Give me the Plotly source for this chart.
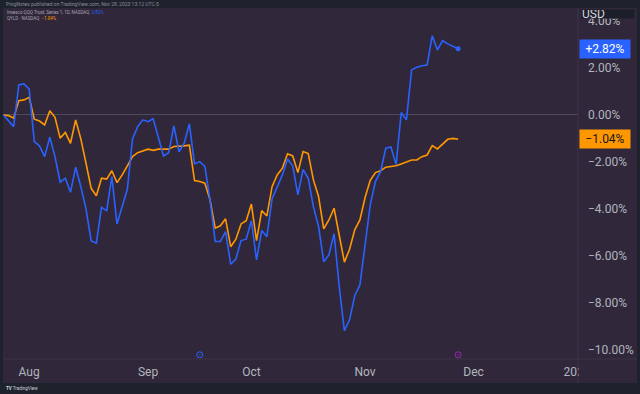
import pandas as pd
import plotly.graph_objects as go

# ---- data -------------------------------------------------------------
holidays = ["2023-09-04", "2023-11-23", "2023-12-25", "2024-01-01"]
calendar = [d for d in pd.bdate_range("2023-07-25", "2024-01-02")
            if d.strftime("%Y-%m-%d") not in holidays]

qqq_pct = [0.00, -0.26, -0.50, 1.28, 1.32, 1.10, -1.14, -1.32, -1.78, -0.95,
           -1.78, -2.87, -2.70, -3.30, -2.23, -3.06, -4.01, -5.37, -5.47, -3.94,
           -4.08, -2.63, -4.65, -3.91, -3.17, -1.02, -0.50, -0.21, -0.29, -0.16,
           -0.94, -1.75, -1.61, -0.47, -1.57, -1.21, -0.38, -2.09, -1.99, -2.20,
           -3.62, -5.40, -5.40, -4.98, -6.37, -6.15, -5.36, -5.30, -4.51, -6.18,
           -4.93, -5.19, -3.58, -3.08, -2.56, -1.88, -2.17, -3.41, -2.33, -2.70,
           -3.91, -4.76, -6.26, -5.97, -5.07, -7.32, -9.20, -8.74, -7.71, -7.25,
           -5.62, -3.84, -2.84, -2.42, -1.42, -1.37, -2.12, 0.10, -0.21, 1.92,
           2.03, 2.10, 2.13, 3.37, 2.77, 3.17, 3.03, 2.94, 2.82]

qyld_pct = [0.00, -0.03, -0.14, 0.61, 0.64, 0.75, -0.18, -0.26, -0.43, 0.18,
            -0.10, -0.99, -0.75, -1.21, -0.21, -1.02, -2.06, -3.13, -3.45, -2.70,
            -2.74, -2.38, -2.89, -2.56, -2.17, -1.78, -1.61, -1.52, -1.46, -1.51,
            -1.46, -1.46, -1.46, -1.35, -1.35, -1.32, -1.29, -2.80, -2.84, -2.91,
            -3.62, -4.83, -4.73, -4.43, -5.62, -5.30, -4.65, -4.51, -3.80, -5.36,
            -4.08, -4.31, -3.06, -2.56, -2.27, -1.66, -1.75, -2.46, -1.56, -1.65,
            -2.77, -3.48, -4.86, -4.48, -3.98, -5.12, -6.28, -5.73, -4.90, -4.48,
            -3.52, -2.79, -2.46, -2.38, -2.23, -2.20, -2.17, -2.09, -1.99, -1.92,
            -1.92, -1.78, -1.71, -1.31, -1.45, -1.24, -1.04, -1.00, -1.04]

y_ticks = [4, 2, 0, -2, -4, -6, -8, -10]
event_dates = ["2023-09-18", "2023-11-28"]
event_colors = ["#2962ff", "#9c27b0"]
event_level = -10.23

series_names = ["Invesco QQQ Trust, Series 1, 1D, NASDAQ", "QYLD · NASDAQ"]
series_colors = ["#2962ff", "#ff9800"]

# ---- derived ----------------------------------------------------------
date_str = [d.strftime("%Y-%m-%d") for d in calendar]
x_idx = list(range(len(qqq_pct)))

tick_vals, tick_text = [], []
for i, d in enumerate(calendar):
    if i > 0 and d.month != calendar[i - 1].month:
        tick_vals.append(i)
        tick_text.append(str(d.year) if d.month == 1 else d.strftime("%b"))

event_idx = [date_str.index(d) for d in event_dates]


def fmt(v, plus=True):
    s = f"{abs(v):.2f}%"
    if v < 0:
        return "\u2212" + s
    return ("+" + s) if (plus and v > 0) else s


y_tick_text = [fmt(v, plus=False) for v in y_ticks]

BG = "#30283a"
DARK = "#1e222d"
FONT = "Roboto"
TXT = "#b2b5be"

fig = go.Figure()
fig.add_trace(go.Scatter(x=x_idx, y=qyld_pct, mode="lines",
                         line=dict(color=series_colors[1], width=1.6),
                         hoverinfo="skip"))
fig.add_trace(go.Scatter(x=x_idx, y=qqq_pct, mode="lines",
                         line=dict(color=series_colors[0], width=1.6),
                         hoverinfo="skip"))
fig.add_trace(go.Scatter(x=[x_idx[-1]], y=[qqq_pct[-1]], mode="markers",
                         marker=dict(color=series_colors[0], size=5),
                         hoverinfo="skip"))
fig.add_trace(go.Scatter(x=event_idx, y=[event_level] * len(event_idx),
                         mode="markers",
                         marker=dict(symbol="circle-open-dot", size=6,
                                     color=event_colors,
                                     line=dict(color=event_colors, width=1)),
                         hoverinfo="skip"))

W, H = 640, 394
L, R, T, B = 3, 62, 8, 35
pw, ph = W - L - R, H - T - B


def px_x(p):
    return (p - L) / pw


def px_y(p):
    return (H - B - p) / ph


shapes = [
    # chart panel
    dict(type="rect", xref="paper", yref="paper", layer="below",
         x0=px_x(3), x1=px_x(637), y0=px_y(383), y1=px_y(8),
         fillcolor=BG, line=dict(width=0)),
    # separators
    dict(type="line", xref="paper", yref="paper", layer="above",
         x0=1, x1=1, y0=px_y(383), y1=px_y(8),
         line=dict(color="#3d3547", width=1)),
    dict(type="line", xref="paper", yref="paper", layer="above",
         x0=0, x1=px_x(637), y0=0, y1=0,
         line=dict(color="#3d3547", width=1)),
    # cover the clipped part of the year label under the price scale
    dict(type="rect", xref="paper", yref="paper", layer="above",
         x0=px_x(579), x1=px_x(637), y0=px_y(382), y1=px_y(360),
         fillcolor=BG, line=dict(width=0)),
]

annotations = [
    dict(text="ProgNotes published on TradingView.com, Nov 28, 2023 13:12 UTC-5",
         xref="paper", yref="paper", x=px_x(4), y=px_y(3.5),
         xanchor="left", yanchor="middle", showarrow=False,
         font=dict(family=FONT, size=5, color="#8a8d96")),
    dict(text=f"{series_names[0]}  <span style='color:{series_colors[0]}'>{fmt(qqq_pct[-1], False)}</span>",
         xref="paper", yref="paper", x=px_x(5), y=px_y(13),
         xanchor="left", yanchor="middle", showarrow=False,
         font=dict(family=FONT, size=4.5, color="#a9a4b2")),
    dict(text=f"{series_names[1]}  <span style='color:{series_colors[1]}'>{fmt(qyld_pct[-1], False)}</span>",
         xref="paper", yref="paper", x=px_x(5), y=px_y(18.5),
         xanchor="left", yanchor="middle", showarrow=False,
         font=dict(family=FONT, size=4.5, color="#a9a4b2")),
    dict(text="USD", xref="paper", yref="paper", x=px_x(581), y=px_y(13.5),
         xanchor="left", yanchor="middle", showarrow=False, width=52, height=8,
         align="left", bgcolor="#1c1f29", borderpad=0,
         font=dict(family=FONT, size=12, color="#d1d4dc")),
    dict(text=fmt(qqq_pct[-1]), xref="paper", yref="y", x=px_x(579),
         y=qqq_pct[-1], xanchor="left", yanchor="middle", showarrow=False,
         width=46, height=14, borderpad=2, bgcolor=series_colors[0],
         font=dict(family=FONT, size=12, color="#ffffff")),
    dict(text=fmt(qyld_pct[-1]), xref="paper", yref="y", x=px_x(579),
         y=qyld_pct[-1], xanchor="left", yanchor="middle", showarrow=False,
         width=46, height=14, borderpad=2, bgcolor=series_colors[1],
         font=dict(family=FONT, size=12, color="#131722")),
    dict(text="<b>TV</b> TradingView", xref="paper", yref="paper",
         x=px_x(4), y=px_y(388.5), xanchor="left", yanchor="middle",
         showarrow=False, font=dict(family=FONT, size=4.5, color="#d1d4dc")),
]

fig.update_layout(
    width=W, height=H,
    margin=dict(l=L, r=R, t=T, b=B, pad=0),
    paper_bgcolor=DARK, plot_bgcolor=BG,
    showlegend=False,
    shapes=shapes, annotations=annotations,
    xaxis=dict(range=[-0.06, 111.2], tickvals=tick_vals, ticktext=tick_text,
               showgrid=False, zeroline=False, showline=False, ticks="",
               ticklabelstandoff=4,
               tickfont=dict(family=FONT, size=12, color=TXT),
               fixedrange=True),
    yaxis=dict(range=[-10.41, 4.56], side="right", tickvals=y_ticks,
               ticktext=y_tick_text, showgrid=False,
               zeroline=True, zerolinecolor="#4f4a5b", zerolinewidth=1,
               showline=False, ticks="", ticklabelstandoff=9,
               tickfont=dict(family=FONT, size=12, color=TXT),
               fixedrange=True),
)

fig.write_html("out.html",
               config={"displayModeBar": False, "staticPlot": True},
               post_script="document.body.style.margin='0';"
                           "document.body.style.padding='0';"
                           "document.body.style.overflow='hidden';")
